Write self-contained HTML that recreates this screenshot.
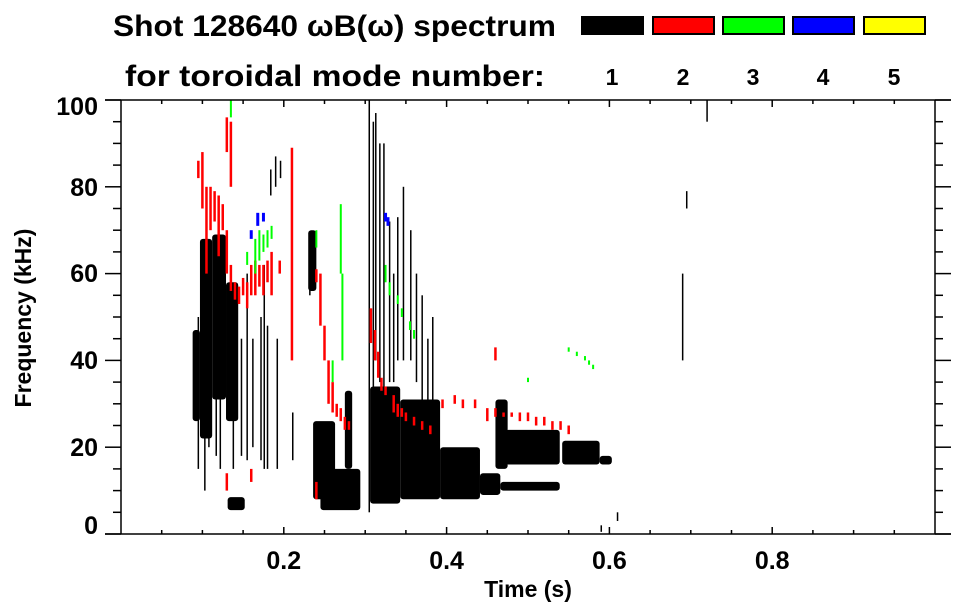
<!DOCTYPE html>
<html><head><meta charset="utf-8"><style>
html,body{margin:0;padding:0;background:#fff;}
svg{display:block;font-family:"Liberation Sans",Arial,sans-serif;font-weight:bold;}
</style></head><body>
<svg id="chart" width="963" height="615" viewBox="0 0 963 615" xmlns="http://www.w3.org/2000/svg">
<text x="113" y="36" font-size="30" textLength="443" lengthAdjust="spacingAndGlyphs">Shot 128640 ωB(ω) spectrum</text>
<text x="125" y="86" font-size="30" textLength="420" lengthAdjust="spacingAndGlyphs">for toroidal mode number:</text>
<g id="legend"></g>
<g id="marks"></g>
<g id="axes"></g>
<text x="528" y="597" font-size="23" text-anchor="middle">Time (s)</text>
<text transform="translate(31,318) rotate(-90)" font-size="23" text-anchor="middle">Frequency (kHz)</text>
</svg>
<script>
// ---- data ----
const modeLabels = ["1","2","3","4","5"];
const modeColors = ["#000000","#ff0000","#00ff00","#0000ff","#ffff00"];
const xTicks = [0.2,0.4,0.6,0.8];
const yTicks = [0,20,40,60,80,100];
// black blobs (mode 1): t0,t1,f0,f1
const blobT0 = [.088,.097,.112,.129,.131,.230,.236,.245,.275,.306,.343,.392,.441,.466,.460,.472,.542,.588];
const blobT1 = [.097,.112,.129,.144,.152,.240,.263,.294,.284,.343,.392,.441,.466,.539,.475,.539,.588,.603];
const blobF0 = [26,22,31,26,5.5,56,8,5.5,15,7,8,8,9,10,15,16,16,16];
const blobF1 = [47,68,69,58,8.5,70,26,15,33,34,31,20,14,12,31,24,21.5,18];
// black vertical strokes (mode 1)
const m1T  = [.095,.103,.108,.117,.122,.138,.148,.155,.162,.172,.176,.180,.192,.184,.190,.196,.211,.232,.305,.310,.313,.318,.323,.330,.335,.340,.347,.356,.363,.370,.377,.383,.720,.695,.690,.590,.610];
const m1F0 = [15,10,20,18,15,15,18,17,20,17,15,15,15,78,80,82,17,55,5,10,40,35,30,35,35,40,40,40,35,30,25,30,95,75,40,0.5,3];
const m1F1 = [50,45,55,50,40,35,45,60,45,50,62,48,45,84,87,86,28,68,100,95,97,90,90,72,60,73,80,70,60,55,45,50,100,79,60,2,5];
// red strokes (mode 2)
const m2T  = [.095,.100,.105,.110,.115,.120,.125,.130,.135,.140,.145,.150,.155,.160,.165,.170,.175,.180,.185,.195,.130,.135,.210,.240,.245,.250,.255,.260,.265,.270,.275,.280,.307,.312,.316,.320,.325,.335,.340,.345,.350,.360,.370,.380,.395,.410,.420,.435,.450,.460,.470,.480,.490,.500,.510,.520,.530,.540,.550,.460,.240,.130,.160];
const m2F0 = [82,75,60,70,72,64,70,60,56,54,53,55,52,55,55,57,55,58,55,60,88,80,40,58,48,40,30,28,27,26,24,24,44,40,36,33,32,28,27,27,26,25,24,23,29,30,29,29,26,27,27,27,26,26,25,25,24,24,23,40,8,10,12];
const m2F1 = [86,88,80,80,79,78,76,70,62,58,57,59,58,62,63,62,62,63,65,63,96,95,89,61,60,48,40,35,30,29,27,26,52,47,42,36,34,32,30,29,28,27,26,25,31,32,31,31,29,29,28,28,28,28,27,27,26,26,25,43,12,14,15];
// green strokes (mode 3)
const m3T  = [.135,.155,.165,.170,.175,.180,.185,.240,.270,.272,.260,.325,.330,.340,.345,.355,.360,.550,.560,.570,.575,.580,.500];
const m3F0 = [96,62,60,63,65,66,68,66,60,40,35,58,55,53,50,47,45,42,41,40,39,38,35];
const m3F1 = [100,65,68,70,69,70,71,70,76,60,40,62,58,55,52,49,47,43,42,41,40,39,36];
// blue strokes (mode 4)
const m4T  = [.160,.168,.175,.325,.328];
const m4F0 = [68,71,72,72,71];
const m4F1 = [70,74,74,74,73];

// ---- axes functions ----
const X0=121, X1=935, Y0=534, Y1=100;
const xs = t => X0 + t*(X1-X0);
const ys = f => Y0 - f/100*(Y0-Y1);
const NS="http://www.w3.org/2000/svg";
function mk(parent, tag, attrs){const e=document.createElementNS(NS,tag);for(const k in attrs)e.setAttribute(k,attrs[k]);parent.appendChild(e);return e;}

const marks=document.getElementById('marks');
for(let i=0;i<blobT0.length;i++){
  const r=mk(marks,'rect',{x:xs(blobT0[i]),y:ys(blobF1[i]),width:xs(blobT1[i])-xs(blobT0[i]),height:ys(blobF0[i])-ys(blobF1[i]),rx:3,fill:'#000'});
  
  
}
function strokes(T,F0,F1,color,w,name){
  for(let i=0;i<T.length;i++){
    const r=mk(marks,'rect',{x:xs(T[i])-w/2,y:ys(F1[i]),width:w,height:Math.max(1.5,ys(F0[i])-ys(F1[i])),fill:color});
    
    
  }
}
strokes(m1T,m1F0,m1F1,'#000',1.5,'mode1-stroke');
strokes(m2T,m2F0,m2F1,'#ff0000',2.5,'mode2-stroke');
strokes(m3T,m3F0,m3F1,'#00ff00',2,'mode3-stroke');
strokes(m4T,m4F0,m4F1,'#0000ff',3,'mode4-stroke');

// legend
const lg=document.getElementById('legend');
const lx=[582,653,723,793,864];
for(let i=0;i<modeLabels.length;i++){
  const r=mk(lg,'rect',{x:lx[i],y:17,width:61,height:17,fill:modeColors[i],stroke:'#000','stroke-width':2});
  
  
  const t=mk(lg,'text',{x:lx[i]+30,y:85,'font-size':23,'text-anchor':'middle'});
  t.textContent=modeLabels[i];
  
  
}

// axes
const ax=document.getElementById('axes');
const ln=(x1,y1,x2,y2,w)=>mk(ax,'line',{x1,y1,x2,y2,stroke:'#000','stroke-width':w||1.5});
ln(105,Y1,951,Y1); ln(105,Y0,951,Y0); ln(X0,Y1,X0,Y0); ln(X1,Y1,X1,Y0);
for(let f=0;f<=100;f+=5){
  const y=ys(f), major=f%20===0;
  ln(major?105:113,y,X0,y); ln(X1,y,major?951:943,y);
}
for(let t=0.05;t<1;t+=0.05){
  const x=xs(t), major=Math.abs(t*5-Math.round(t*5))<1e-6;
  const L=major?7:4;
  ln(x,Y0,x,Y0-L); ln(x,Y1,x,Y1+L);
}
const yLabelY=[525,447,360,273,187,106];
yTicks.forEach((v,i)=>{
  const t=mk(ax,'text',{x:98,y:yLabelY[i]+9,'font-size':25,'text-anchor':'end'});
  t.textContent=String(v);
  
  
});
xTicks.forEach(v=>{
  const t=mk(ax,'text',{x:xs(v),y:569,'font-size':25,'text-anchor':'middle'});
  t.textContent=String(v);
  
  
});
</script>
</body></html>
